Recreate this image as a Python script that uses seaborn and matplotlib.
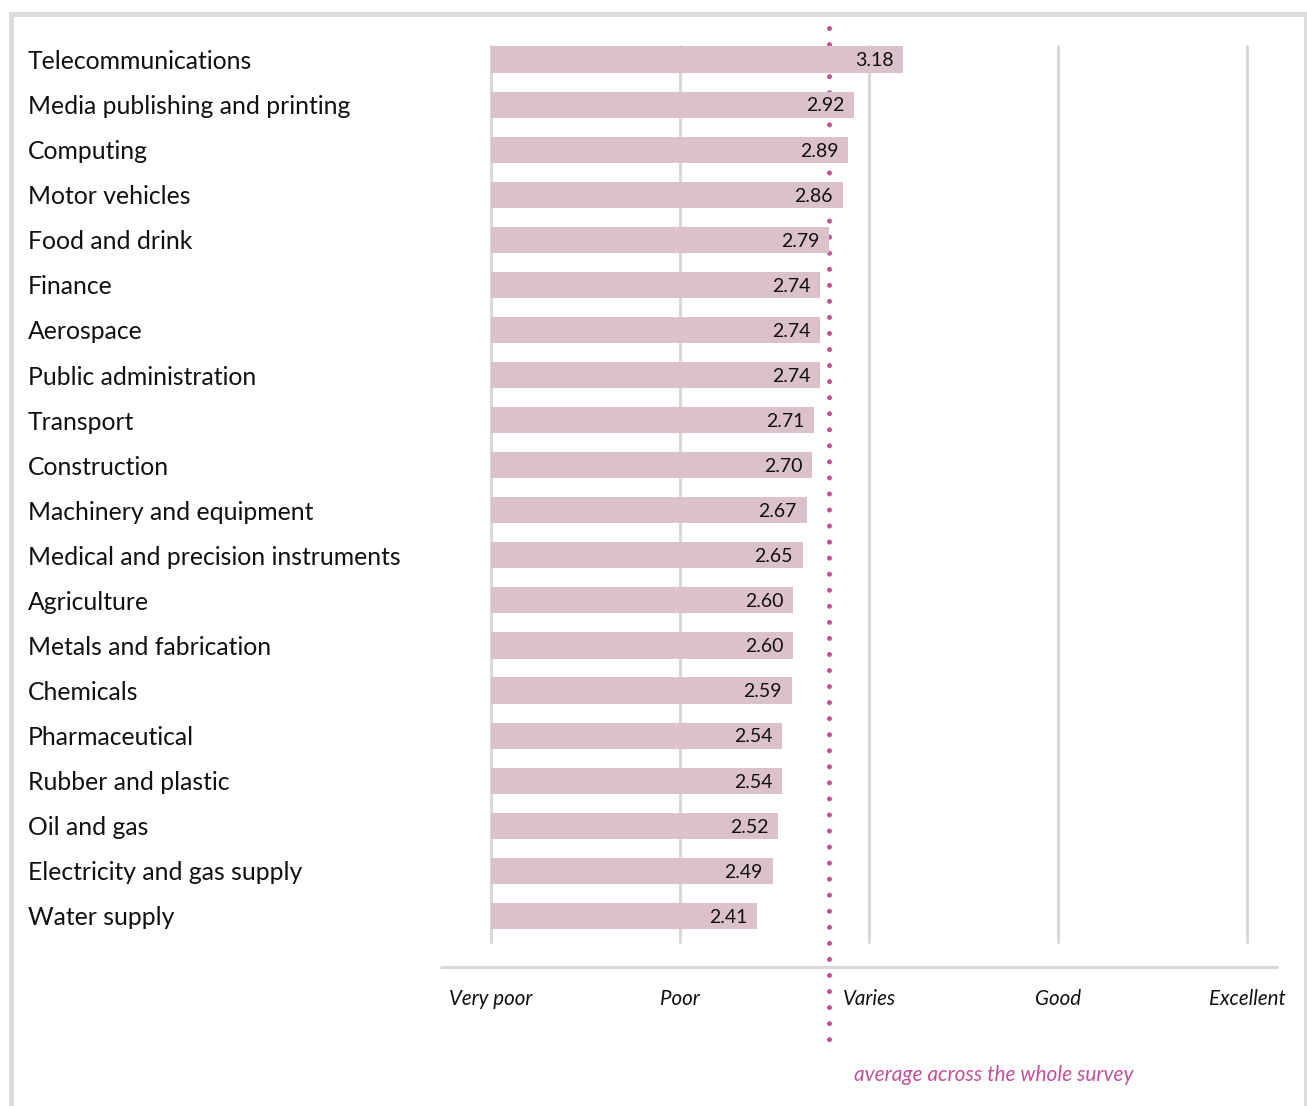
import matplotlib
matplotlib.use("Agg")
import matplotlib.pyplot as plt
import matplotlib.transforms as mtransforms
from matplotlib.patches import Rectangle
import pandas as pd
import seaborn as sns

# Sector ratings on a 1-5 scale
sectors = [
    "Telecommunications",
    "Media publishing and printing",
    "Computing",
    "Motor vehicles",
    "Food and drink",
    "Finance",
    "Aerospace",
    "Public administration",
    "Transport",
    "Construction",
    "Machinery and equipment",
    "Medical and precision instruments",
    "Agriculture",
    "Metals and fabrication",
    "Chemicals",
    "Pharmaceutical",
    "Rubber and plastic",
    "Oil and gas",
    "Electricity and gas supply",
    "Water supply",
]
scores = [3.18, 2.92, 2.89, 2.86, 2.79, 2.74, 2.74, 2.74, 2.71, 2.70,
          2.67, 2.65, 2.60, 2.60, 2.59, 2.54, 2.54, 2.52, 2.49, 2.41]
scale_values = [1, 2, 3, 4, 5]
scale_labels = ["Very poor", "Poor", "Varies", "Good", "Excellent"]
survey_average = 2.79

BAR = "#dbc1cc"
GRID = "#d9d9d9"
FRAME = "#dcdcdc"
ACCENT = "#c2519b"

sns.set_theme(style="white")
plt.rcParams["font.family"] = ["Lato", "DejaVu Sans"]

W, H = 1307, 1106
fig = plt.figure(figsize=(W / 100, H / 100), dpi=100)
fig.patch.set_facecolor("white")

# plot area: x from "Very poor" to "Excellent"
x0, x1, y0, y1 = 491, 1247, 46, 942
ax = fig.add_axes([x0 / W, 1 - y1 / H, (x1 - x0) / W, (y1 - y0) / H])

df = pd.DataFrame({"sector": sectors, "score": scores})
sns.barplot(data=df, x="score", y="sector", orient="h", color=BAR,
            saturation=1, width=0.58, linewidth=0, errorbar=None, ax=ax,
            zorder=2)

ax.set_xlim(1, 5)
ax.set_ylim(len(sectors) - 1 + 0.58, -0.30)
for s in ax.spines.values():
    s.set_visible(False)
ax.set_xlabel("")
ax.set_ylabel("")

# vertical guides at each scale point
for v in scale_values:
    ax.axvline(v, color=GRID, lw=2.2, zorder=0, clip_on=False)

# scale labels
ax.set_xticks(scale_values)
ax.set_xticklabels(scale_labels, fontstyle="italic", fontsize=14.8, color="#111111")
ax.tick_params(axis="x", length=0, pad=34)

# sector names, left aligned near the figure edge
ax.tick_params(axis="y", length=0, pad=(x0 - 28) * 0.72)
for t in ax.get_yticklabels():
    t.set_ha("left")
    t.set_fontsize(17.8)
    t.set_color("#111111")

# value labels inside the bar ends
for i, v in enumerate(scores):
    ax.annotate(f"{v:.2f}", xy=(v, i), xytext=(-7, -1), textcoords="offset points",
                ha="right", va="center", fontsize=14, color="#111111",
                annotation_clip=False, zorder=3)

trans = mtransforms.blended_transform_factory(ax.transData, ax.transAxes)

# baseline under the chart
ax.plot([0.73, 5.165], [-0.028, -0.028], transform=trans, color=GRID,
        lw=2.2, clip_on=False, solid_capstyle="butt")

# dotted line for the overall survey average, running behind the bars
ax.plot([survey_average, survey_average], [1.020, -0.115], transform=trans,
        color=ACCENT, lw=3.6, linestyle=(0, (0.01, 3.2)),
        dash_capstyle="round", clip_on=False, zorder=1)
ax.annotate("average across the whole survey", xy=(survey_average, -0.148),
            xycoords=trans, xytext=(18, 0), textcoords="offset points",
            ha="left", va="center", fontstyle="italic", fontsize=15,
            color=ACCENT, annotation_clip=False)

# light frame around the panel
fig.patches.append(Rectangle((10.5 / W, -0.1), (1305.5 - 10.5) / W,
                             1.1 - 14.5 / H, transform=fig.transFigure,
                             fill=False, edgecolor=FRAME, lw=3.6, zorder=0))

fig.savefig("out.png", dpi=100, facecolor="white")
